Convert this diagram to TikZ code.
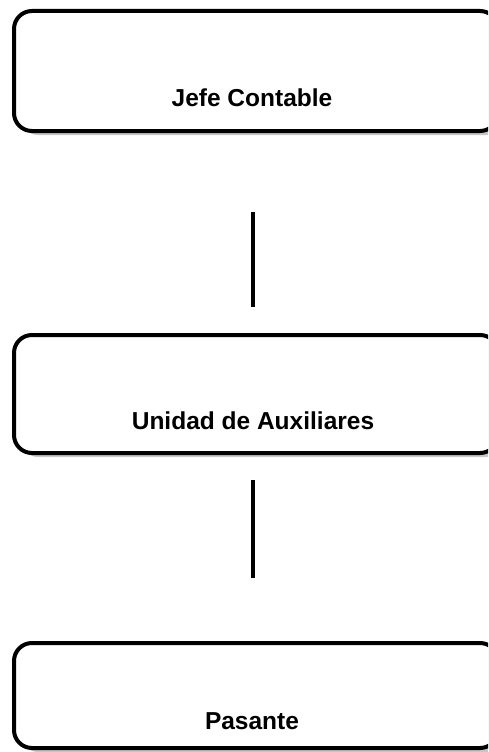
\documentclass[tikz,border=0pt]{standalone}
\usepackage{fontspec}
\setmainfont{Liberation Sans}
\usetikzlibrary{shadows}
\tikzset{
  orgbox/.style={draw=black, line width=4pt, rounded corners=18pt, fill=white,
    inner sep=0pt, minimum width=484pt,
    drop shadow={shadow xshift=6pt, shadow yshift=-4pt, fill=black!22, opacity=1}},
  lbl/.style={anchor=base, font=\fontsize{24.5}{28}\selectfont\bfseries, inner sep=0pt},
  conn/.style={draw=black, line width=4pt}
}
\begin{document}
\begin{tikzpicture}[x=1pt,y=-1pt]
\useasboundingbox (0,0) rectangle (488,752);
\clip (0,0) rectangle (488,752);
\node[orgbox, minimum height=120pt] (b1) at (256,71) {};
\node[orgbox, minimum height=118pt] (b2) at (256,394) {};
\node[orgbox, minimum height=105pt] (b3) at (256,695.5) {};
\node[lbl] (t1) at (252,106) {Jefe Contable};
\node[lbl] (t2) at (253,429) {Unidad de Auxiliares};
\node[lbl] (t3) at (252,729) {Pasante};
\coordinate (c1a) at (253,212);
\coordinate (c1b) at (253,307);
\coordinate (c2a) at (253,480);
\coordinate (c2b) at (253,578);
\draw[conn] (c1a) -- (c1b);
\draw[conn] (c2a) -- (c2b);
\end{tikzpicture}
\end{document}
